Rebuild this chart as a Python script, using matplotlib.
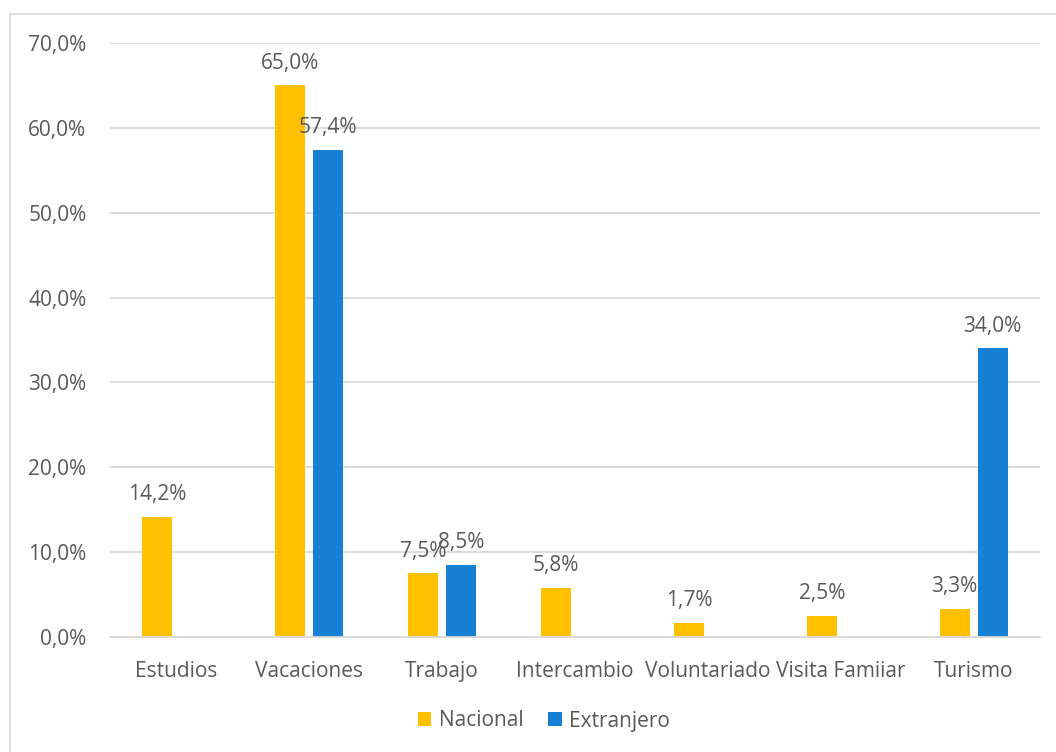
import numpy as np
import matplotlib.pyplot as plt
from matplotlib.patches import Rectangle

plt.rcParams['font.family'] = ['Open Sans', 'DejaVu Sans']

# data
categorias = ['Estudios', 'Vacaciones', 'Trabajo', 'Intercambio',
              'Voluntariado', 'Visita Famiiar', 'Turismo']
nacional = [14.2, 65.0, 7.5, 5.8, 1.7, 2.5, 3.3]
extranjero = [np.nan, 57.4, 8.5, np.nan, np.nan, np.nan, 34.0]

amarillo = '#FFC000'
azul = '#1580D4'
gris = '#595959'

fig = plt.figure(figsize=(10.56, 7.52), dpi=100)
fig.patches.append(Rectangle((10/1056, -0.01), 1.1, (752-14)/752 + 0.01,
                             transform=fig.transFigure, fill=False,
                             edgecolor='#d9d9d9', linewidth=1.2))
ax = fig.add_axes([110/1056, (752-637)/752, (1040-110)/1056, (637-43)/752])

x = np.arange(len(categorias))
w = 0.226
off = 0.143
b1 = ax.bar(x - off, nacional, w, color=amarillo, label='Nacional')
b2 = ax.bar(x + off, extranjero, w, color=azul, label='Extranjero')

def etiquetas(barras, valores):
    for b, v in zip(barras, valores):
        if np.isnan(v):
            continue
        ax.annotate(f'{v:.1f}%'.replace('.', ','),
                    (b.get_x() + b.get_width()/2, v),
                    xytext=(0, 8.5), textcoords='offset points',
                    ha='center', va='bottom', fontsize=15, color=gris)

etiquetas(b1, nacional)
etiquetas(b2, extranjero)

ax.set_xlim(-0.5, len(categorias) - 0.5)
ax.set_ylim(0, 70)
ax.set_yticks(np.arange(0, 71, 10))
ax.set_yticklabels([f'{v:.1f}%'.replace('.', ',') for v in np.arange(0, 71, 10)])
ax.set_xticks(x)
ax.set_xticklabels(categorias)
ax.tick_params(axis='both', length=0, labelsize=15, labelcolor=gris)
ax.tick_params(axis='y', pad=17)
ax.tick_params(axis='x', pad=17)
ax.grid(axis='y', color='#d9d9d9', linewidth=1.3)
ax.set_axisbelow(True)
for s in ['top', 'right', 'left']:
    ax.spines[s].set_visible(False)
ax.spines['bottom'].set_color('#d9d9d9')
ax.spines['bottom'].set_linewidth(1.3)

fig.legend(loc='center', bbox_to_anchor=(544/1056, 1 - 721/752), ncol=2,
           frameon=False, fontsize=15, labelcolor=gris,
           handlelength=0.65, handleheight=0.65, handletextpad=0.35, columnspacing=1.2)

plt.savefig('out.png', dpi=100)
